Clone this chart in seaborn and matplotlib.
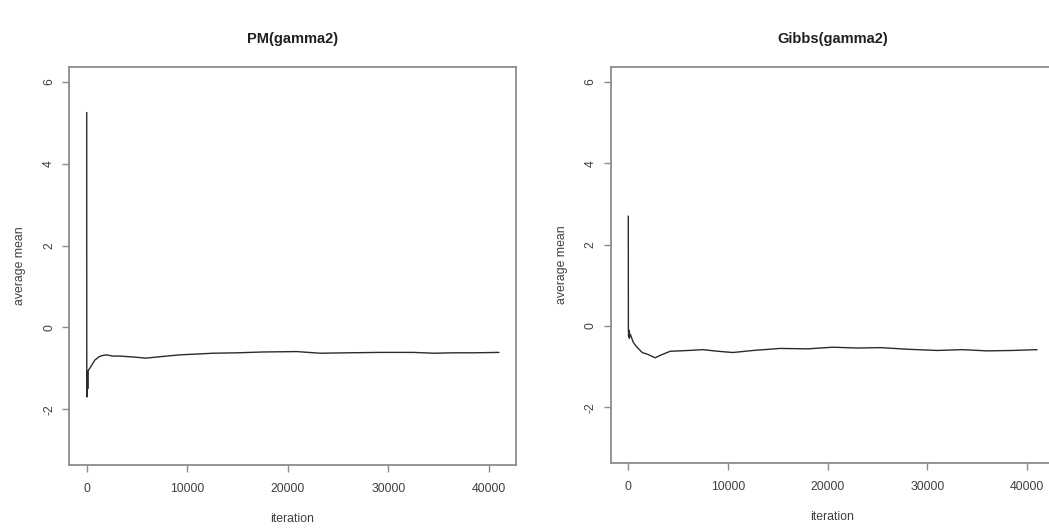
import matplotlib
matplotlib.use("Agg")
import matplotlib.pyplot as plt
import seaborn as sns
import pandas as pd

# ---- data ----
pm_iter = [1, 5, 20, 40, 60, 100, 150, 300, 500, 800, 1200, 1500, 1950, 2600, 3300, 4500,
           5900, 7500, 9250, 11000, 12550, 15000, 17500, 20900, 23200, 26000, 29150,
           32500, 34500, 36500, 38500, 41000]
pm_mean = [5.25, -1.70, -1.20, -1.65, -1.10, -1.50, -1.05, -1.00, -0.92, -0.80, -0.72,
           -0.69, -0.67, -0.70, -0.70, -0.72, -0.75, -0.71, -0.67, -0.65, -0.63, -0.62,
           -0.60, -0.59, -0.63, -0.62, -0.61, -0.61, -0.63, -0.62, -0.62, -0.61]

gibbs_iter = [1, 10, 30, 60, 100, 200, 500, 800, 1400, 2000, 2700, 3200, 4200, 6000,
              7500, 9000, 10500, 12500, 15200, 18000, 20500, 23000, 25300, 28000, 31000,
              33500, 36000, 38500, 41000]
gibbs_mean = [2.70, -0.05, -0.25, -0.10, -0.30, -0.20, -0.40, -0.50, -0.65, -0.70, -0.78,
              -0.72, -0.62, -0.60, -0.58, -0.62, -0.65, -0.60, -0.55, -0.56, -0.52, -0.54,
              -0.53, -0.57, -0.60, -0.58, -0.61, -0.60, -0.58]

titles = ["PM(gamma2)", "Gibbs(gamma2)"]
x_ticks = [0, 10000, 20000, 30000, 40000]
y_ticks = [-2, 0, 2, 4, 6]

sns.set_style("white")
plt.rcParams['font.family'] = ['Liberation Sans', 'DejaVu Sans']

fig = plt.figure(figsize=(10.49, 5.29), dpi=100)
ax1 = fig.add_axes([0.0658, 0.121, 0.4261, 0.7523])
ax2 = fig.add_axes([0.5822, 0.125, 0.4226, 0.7483])

frames = [pd.DataFrame({"iteration": pm_iter, "average mean": pm_mean}),
          pd.DataFrame({"iteration": gibbs_iter, "average mean": gibbs_mean})]

box_col = "#8c8c8c"
txt_col = "#404040"
for ax, df, title in zip([ax1, ax2], frames, titles):
    sns.lineplot(data=df, x="iteration", y="average mean", ax=ax, estimator=None,
                 sort=False, color="#2b2b2b", linewidth=1.0)
    ax.set_xlim(-1760, 42700)
    ax.set_ylim(-3.36, 6.36)
    ax.set_xticks(x_ticks)
    ax.set_xticklabels([str(v) for v in x_ticks])
    ax.set_yticks(y_ticks)
    ax.set_yticklabels([str(v) for v in y_ticks], rotation=90, va="center")
    for s in ax.spines.values():
        s.set_visible(True)
        s.set_color(box_col)
        s.set_linewidth(1.3)
    ax.tick_params(axis="both", which="major", bottom=True, left=True, top=False,
                   right=False, direction="out", length=5, width=1.0, color=box_col,
                   labelsize=8.8, labelcolor=txt_col)
    ax.tick_params(axis="x", pad=8)
    ax.tick_params(axis="y", pad=5)
    ax.set_xlabel("iteration", fontsize=8.8, color=txt_col, labelpad=13)
    ax.set_ylabel("average mean", fontsize=8.8, color=txt_col, labelpad=12)
    ax.set_title(title, fontsize=10.5, fontweight="bold", color="#202020", pad=17)
    ax.grid(False)

fig.savefig("out.png", dpi=100, facecolor="white")
